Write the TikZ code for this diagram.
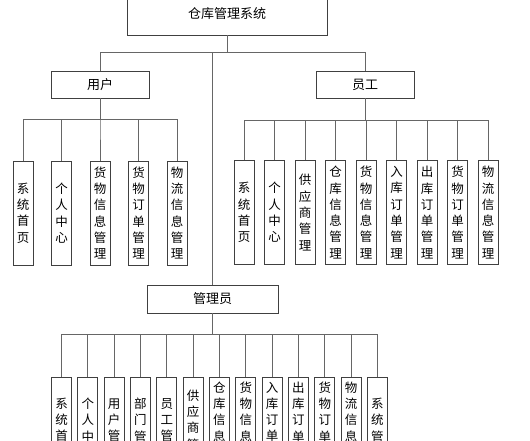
\documentclass[tikz,border=0pt]{standalone}
\usepackage{fontspec}
\newfontfamily\cjk{Noto Sans CJK SC}
\begin{document}
\begin{tikzpicture}[x=1pt,y=-1pt]
\tikzset{
  box/.style={draw=black!75, line width=0.9pt, fill=white, inner sep=0pt,
    font=\cjk\fontsize{13}{16}\selectfont},
  vbox/.style={draw=black!75, line width=0.9pt, fill=white, inner sep=0pt,
    minimum width=20pt, minimum height=104pt, align=center,
    font=\cjk\fontsize{12.5}{16.3}\selectfont},
  link/.style={draw=black!60, line width=0.9pt}
}
\path[use as bounding box, clip] (0,0) rectangle (530,440);
\fill[white] (0,0) rectangle (530,440);
% main nodes
\node[box, minimum width=200pt, minimum height=43pt] (sys) at (227,13.5) {仓库管理系统};
\node[box, minimum width=98pt, minimum height=27pt] (u) at (100,84.5) {用户};
\node[box, minimum width=98pt, minimum height=27pt] (e) at (365,84.5) {员工};
\node[box, minimum width=131pt, minimum height=28pt] (a) at (212.5,299) {管理员};
% bus levels
\coordinate (tb) at (0,52);
\coordinate (ub) at (0,119);
\coordinate (eb) at (0,120);
\coordinate (ab) at (0,334.5);
% user children
\foreach \t [count=\i] in {{系\\统\\首\\页},{个\\人\\中\\心},{货\\物\\信\\息\\管\\理},{货\\物\\订\\单\\管\\理},{物\\流\\信\\息\\管\\理}}
  \node[vbox] (u\i) at ({23+38.5*(\i-1)},213) {\t};
% employee children
\foreach \t [count=\i] in {{系\\统\\首\\页},{个\\人\\中\\心},{供\\应\\商\\管\\理},{仓\\库\\信\\息\\管\\理},{货\\物\\信\\息\\管\\理},{入\\库\\订\\单\\管\\理},{出\\库\\订\\单\\管\\理},{货\\物\\订\\单\\管\\理},{物\\流\\信\\息\\管\\理}}
  \node[vbox] (e\i) at ({244+30.5*(\i-1)},212.5) {\t};
% admin children
\foreach \t [count=\i] in {{系\\统\\首\\页},{个\\人\\中\\心},{用\\户\\管\\理},{部\\门\\管\\理},{员\\工\\管\\理},{供\\应\\商\\管\\理},{仓\\库\\信\\息\\管\\理},{货\\物\\信\\息\\管\\理},{入\\库\\订\\单\\管\\理},{出\\库\\订\\单\\管\\理},{货\\物\\订\\单\\管\\理},{物\\流\\信\\息\\管\\理},{系\\统\\管\\理}}
  \node[vbox, minimum height=102pt] (a\i) at ({61.5+26.33*(\i-1)},428) {\t};
% connectors
\draw[link] (sys.south) -- (sys.south |- tb) -| (u.north);
\draw[link] (sys.south) -- (sys.south |- tb) -| (e.north);
\draw[link] (sys.south) -- (sys.south |- tb) -| (a.north);
\foreach \i in {1,...,5}
  \draw[link] (u.south) -- (u.south |- ub) -| (u\i.north);
\foreach \i in {1,...,9}
  \draw[link] (e.south) -- (e.south |- eb) -| (e\i.north);
\foreach \i in {1,...,13}
  \draw[link] (a.south) -- (a.south |- ab) -| (a\i.north);
\end{tikzpicture}
\end{document}
